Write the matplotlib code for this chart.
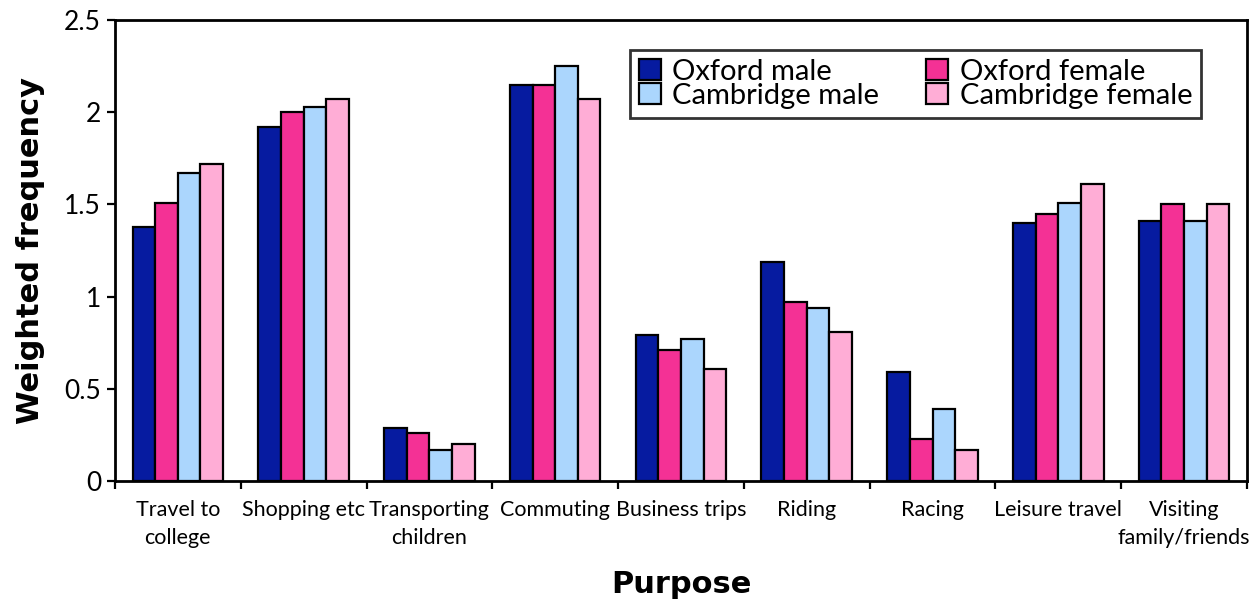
import matplotlib
matplotlib.use("Agg")
import matplotlib.pyplot as plt
import numpy as np
from matplotlib.ticker import FixedLocator

plt.rcParams["font.family"] = ["Lato", "DejaVu Sans"]

purposes = ["Travel to\ncollege", "Shopping etc", "Transporting\nchildren", "Commuting",
            "Business trips", "Riding", "Racing", "Leisure travel", "Visiting\nfamily/friends"]
oxford_male = [1.38, 1.92, 0.29, 2.15, 0.79, 1.19, 0.59, 1.40, 1.41]
oxford_female = [1.51, 2.00, 0.26, 2.15, 0.71, 0.97, 0.23, 1.45, 1.50]
cambridge_male = [1.67, 2.03, 0.17, 2.25, 0.77, 0.94, 0.39, 1.51, 1.41]
cambridge_female = [1.72, 2.07, 0.20, 2.07, 0.61, 0.81, 0.17, 1.61, 1.50]
yticks = [0, 0.5, 1, 1.5, 2, 2.5]
ytick_labels = ["0", "0.5", "1", "1.5", "2", "2.5"]

series = [
    ("Oxford male", oxford_male, "#061ba0"),
    ("Oxford female", oxford_female, "#f43195"),
    ("Cambridge male", cambridge_male, "#abd6fd"),
    ("Cambridge female", cambridge_female, "#ffadd6"),
]

fig = plt.figure(figsize=(12.55, 6.04), dpi=100)
ax = fig.add_axes([0.0916, 0.2036, 0.902, 0.7633])

x = np.arange(len(purposes))
width = 0.18
bars = {}
for i, (name, vals, col) in enumerate(series):
    bars[name] = ax.bar(x + (i - 1.5) * width, vals, width, color=col,
                        edgecolor="black", linewidth=1.6, label=name)

ax.set_xlim(-0.5, len(purposes) - 0.5)
ax.set_ylim(0, 2.5)
ax.set_yticks(yticks)
ax.set_yticklabels(ytick_labels)
ax.set_xticks(x)
ax.set_xticklabels(purposes, fontsize=15.5, linespacing=1.45)
ax.xaxis.set_minor_locator(FixedLocator(np.arange(len(purposes) + 1) - 0.5))
ax.tick_params(axis="x", which="major", length=0, pad=14)
ax.tick_params(axis="x", which="minor", length=6, width=1.6, direction="out")
ax.tick_params(axis="y", length=6, width=1.6, labelsize=19, pad=4)

for s in ax.spines.values():
    s.set_linewidth(2)

title_font = dict(family="DejaVu Sans", fontsize=22, fontweight="bold")
ax.set_ylabel("Weighted frequency", labelpad=14, **title_font)
ax.set_xlabel("Purpose", labelpad=16, **title_font)

order = ["Oxford male", "Cambridge male", "Oxford female", "Cambridge female"]
leg = ax.legend([bars[n] for n in order], order, ncol=2, fontsize=21,
                loc="upper left", bbox_to_anchor=(0.455, 0.935),
                frameon=True, fancybox=False, edgecolor="black",
                handlelength=0.75, handleheight=0.75, handletextpad=0.4,
                columnspacing=1.6, labelspacing=-0.06, borderpad=0.3,
                borderaxespad=0)
leg.get_frame().set_linewidth(2)

fig.savefig("out.png", dpi=100)
